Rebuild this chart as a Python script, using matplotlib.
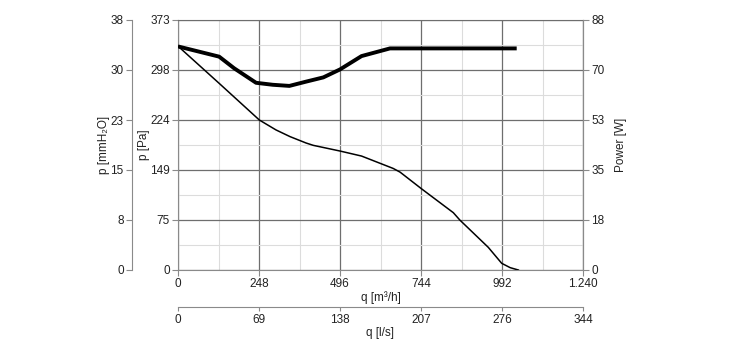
import matplotlib
matplotlib.use('Agg')
import matplotlib.pyplot as plt
import numpy as np

plt.rcParams['font.family'] = ['Liberation Sans', 'DejaVu Sans']
plt.rcParams['font.size'] = 8.5

# flow q [m3/h] and static pressure [Pa]
q_p = [0, 126, 249, 300, 343, 392, 414, 496, 562, 659, 680, 746, 843, 863, 950, 991, 1017, 1042]
p_pa = [334, 278.5, 223.8, 209, 199, 189.5, 186, 177.5, 170, 151.5, 146, 121, 85.5, 74.5, 33.8, 10, 3.5, 0]

# flow q [m3/h] and power [W]
q_w = [0, 126, 172, 239, 290, 341, 392, 445, 496, 562, 649, 1037]
pw = [78.7, 75.1, 71.0, 65.9, 65.2, 64.8, 66.3, 67.8, 70.6, 75.3, 78.0, 78.0]

x_labels = ['0', '248', '496', '744', '992', '1.240']
ls_labels = ['0', '69', '138', '207', '276', '344']
pa_labels = ['0', '75', '149', '224', '298', '373']
mm_labels = ['0', '8', '15', '23', '30', '38']
w_labels = ['0', '18', '35', '53', '70', '88']

txt = '#222222'
spine = '#8a8a8a'

fig = plt.figure(figsize=(7.3, 3.5), dpi=100)
ax = fig.add_axes([178/730, 80/350, 405/730, 250/350])

ax.set_xlim(0, 1240)
ax.set_ylim(0, 373)
ax.set_xticks(np.linspace(0, 1240, 6))
ax.set_xticklabels(x_labels)
ax.set_yticks(np.linspace(0, 373, 6))
ax.set_yticklabels(pa_labels)
ax.set_xticks(np.linspace(0, 1240, 11), minor=True)
ax.set_yticks(np.linspace(0, 373, 11), minor=True)
ax.grid(True, which='major', color='#6e6e6e', lw=0.9)
ax.grid(True, which='minor', color='#dcdcdc', lw=0.8)
ax.tick_params(which='minor', length=0)
ax.tick_params(which='major', length=4, width=0.8, color=spine, labelcolor=txt, pad=2)
for s in ax.spines.values():
    s.set_color(spine)
ax.spines['top'].set_color('#6e6e6e')
ax.set_axisbelow(True)

ax.plot(q_p, p_pa, color='black', lw=1.1, solid_joinstyle='round', zorder=3)

ax.set_xlabel('q [m³/h]', color=txt)
ax.xaxis.set_label_coords(0.5, -0.085)
ax.set_ylabel('p [Pa]', color=txt)
ax.yaxis.set_label_coords(-0.07, 0.5)

# power axis on the right
axw = ax.twinx()
axw.set_ylim(0, 88)
axw.set_yticks(np.linspace(0, 88, 6))
axw.set_yticklabels(w_labels)
axw.tick_params(length=4, width=0.8, color=spine, labelcolor=txt, pad=2)
for k, s in axw.spines.items():
    s.set_visible(k == 'right')
    s.set_color(spine)
axw.plot(q_w, pw, color='black', lw=2.8, solid_capstyle='butt',
         solid_joinstyle='round', zorder=4)
axw.set_ylabel('Power [W]', color=txt)
axw.yaxis.set_label_coords(1.078, 0.5)

# mmH2O axis on the far left
axm = ax.twinx()
axm.set_ylim(0, 38)
axm.set_yticks(np.linspace(0, 38, 6))
axm.set_yticklabels(mm_labels)
axm.yaxis.set_ticks_position('left')
axm.yaxis.set_label_position('left')
for k, s in axm.spines.items():
    s.set_visible(k == 'left')
    s.set_color(spine)
axm.spines['left'].set_position(('axes', -46/405))
axm.tick_params(length=4, width=0.8, color=spine, labelcolor=txt, pad=2)
axm.set_ylabel('p [mmH₂O]', color=txt)
axm.yaxis.set_label_coords(-0.168, 0.5)

# l/s axis below
axl = ax.twiny()
axl.set_xlim(0, 344)
axl.set_xticks(np.linspace(0, 344, 6))
axl.set_xticklabels(ls_labels)
axl.xaxis.set_ticks_position('bottom')
axl.xaxis.set_label_position('bottom')
for k, s in axl.spines.items():
    s.set_visible(k == 'bottom')
    s.set_color(spine)
axl.spines['bottom'].set_position(('axes', -37/250))
axl.tick_params(length=3, width=0.8, color=spine, labelcolor=txt, pad=2)
axl.set_xlabel('q [l/s]', color=txt)
axl.xaxis.set_label_coords(0.5, -0.228)

fig.savefig('out.png', dpi=100)
